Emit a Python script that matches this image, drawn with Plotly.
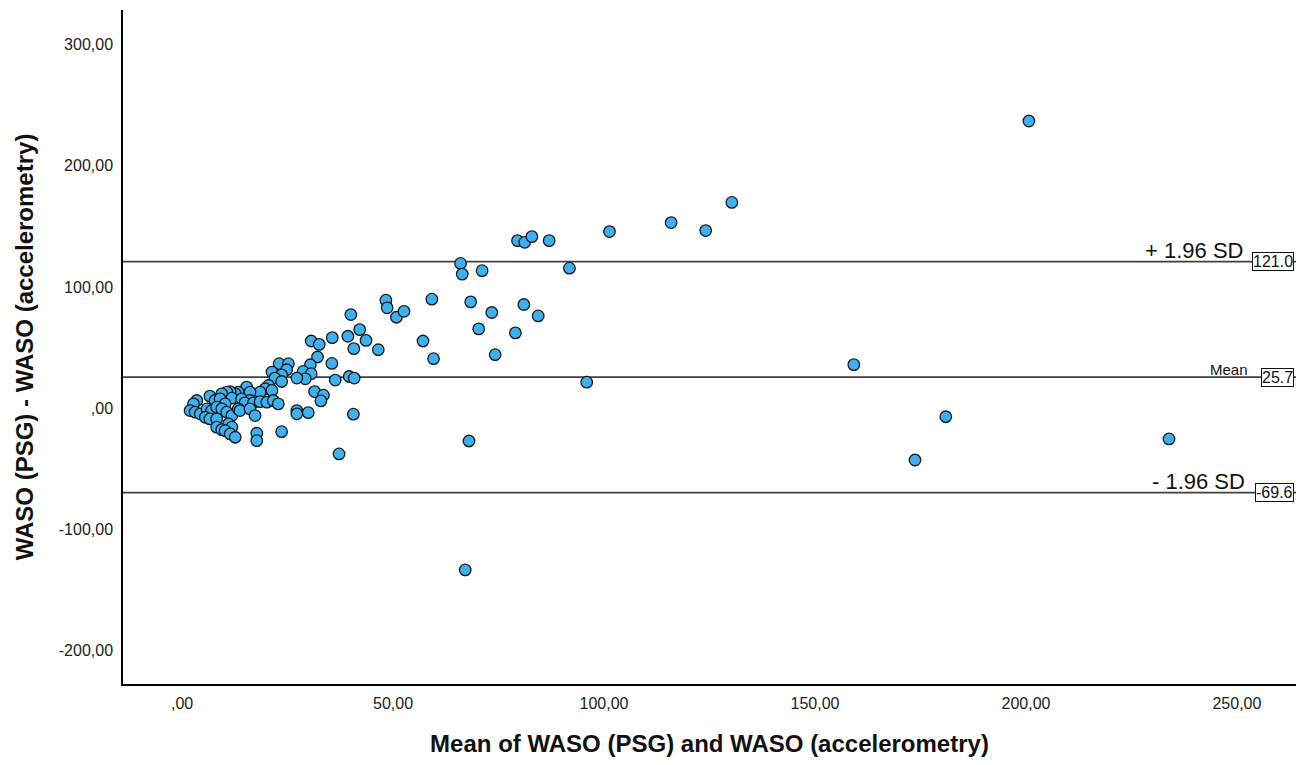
import plotly.graph_objects as go

# Bland-Altman data: mean of the two methods (x) and difference (y)
mean_waso = [
    200.7, 233.9, 181.0, 173.7, 159.2, 130.3, 124.1, 115.9, 101.3, 95.9,
    91.8, 79.5, 81.2, 82.9, 87.0, 66.0, 66.4, 71.1, 68.4, 73.4,
    81.0, 84.4, 70.3, 79.0, 74.2, 68.0, 67.1,
    48.3, 48.6, 50.8, 52.6, 59.2, 40.0, 42.1, 43.6, 46.5, 57.1,
    59.6, 35.6, 39.3, 40.7, 30.6, 32.5, 32.1, 35.5, 30.4, 28.7,
    30.6, 29.2, 36.3, 39.6, 40.8, 31.4, 33.5, 32.9, 29.9, 40.6, 37.2,
    23.0, 25.2, 24.8, 21.3, 23.6, 22.0, 23.6, 27.2, 20.5, 19.7,
    21.3, 18.5, 15.3, 16.1, 13.3, 12.6, 11.4, 10.6, 9.4, 11.8,
    14.1, 16.1, 14.9, 16.9, 18.5, 20.1, 21.6, 22.8, 6.6, 7.8,
    9.0, 10.2, 3.5, 2.7, 1.9, 3.1, 4.3, 5.9, 7.0, 8.2,
    9.4, 10.6, 11.8, 13.3, 13.7, 16.1, 17.3, 11.0, 11.8, 5.5,
    6.6, 8.2, 8.2, 9.4, 10.2, 11.4, 12.6, 17.7, 17.7, 23.6,
    27.2, 27.2,
]
diff_waso = [
    237.0, -25.3, -7.0, -42.7, 36.0, 169.8, 146.6, 153.2, 145.8, 21.5,
    115.6, 138.3, 136.9, 141.6, 138.3, 119.5, 110.7, 113.5, 87.8, 79.0,
    85.6, 76.2, 65.5, 62.2, 44.2, -27.0, -133.4,
    89.2, 82.9, 75.1, 80.0, 90.0, 77.3, 64.9, 56.0, 48.3, 55.5,
    40.9, 58.3, 59.4, 49.2, 55.5, 52.7, 42.3, 37.0, 35.9, 30.4,
    28.5, 24.3, 23.3, 26.2, 24.9, 13.8, 10.8, 6.1, -3.6, -4.9, -37.7,
    36.8, 36.8, 31.8, 29.9, 27.6, 24.9, 22.1, 24.9, 18.8, 16.1,
    14.7, 13.3, 17.5, 13.3, 13.3, 11.9, 13.8, 13.3, 11.9, 8.4,
    7.8, 6.4, 4.5, 4.5, 5.5, 5.0, 6.4, 3.6, 10.0, 6.4,
    7.8, 3.6, 6.4, 3.6, -1.9, -3.2, -4.6, -0.5, -1.9, 0.9,
    -0.5, -3.2, -6.0, -0.5, -1.9, -0.5, -6.0, -12.9, -15.6, -7.4,
    -8.8, -8.8, -15.6, -17.6, -18.5, -21.2, -23.9, -20.6, -26.7, -19.3,
    -1.9, -4.6,
]

# Reference lines (limits of agreement and mean difference)
ref_values = [121.0, 25.7, -69.6]
ref_labels = ["+ 1.96 SD", "Mean", "- 1.96 SD"]
ref_value_text = ["121.0", "25.7", "-69.6"]
ref_label_sizes = [22, 15, 22]
ref_label_x = [0.9565, 0.9605, 0.9585]

# Axis ticks
x_tickvals = [0, 50, 100, 150, 200, 250]
x_ticktext = [",00", "50,00", "100,00", "150,00", "200,00", "250,00"]
y_tickvals = [-200, -100, 0, 100, 200, 300]
y_ticktext = ["-200,00", "-100,00", ",00", "100,00", "200,00", "300,00"]

FONT = "Liberation Sans, Arial, sans-serif"

fig = go.Figure()
fig.add_trace(go.Scatter(
    x=mean_waso, y=diff_waso, mode="markers",
    marker=dict(size=11.5, color="#3DB0EF", line=dict(color="#1A1A1A", width=1.3)),
    showlegend=False, hoverinfo="x+y",
))

shapes = []
annotations = []
for val, lab, vtxt, fs, lx in zip(ref_values, ref_labels, ref_value_text, ref_label_sizes, ref_label_x):
    shapes.append(dict(type="line", xref="paper", x0=0, x1=1, yref="y", y0=val, y1=val,
                       line=dict(color="#404040", width=1.8), layer="below"))
    annotations.append(dict(xref="paper", x=0.9985, xanchor="right", yref="y", y=val,
                            yanchor="middle", text=vtxt, showarrow=False,
                            font=dict(family=FONT, size=16, color="#111"),
                            bgcolor="white", bordercolor="#111", borderwidth=1, borderpad=0))
    annotations.append(dict(xref="paper", x=lx, xanchor="right", yref="y", y=val,
                            yanchor="bottom", yshift=-3, text=lab, showarrow=False,
                            font=dict(family=FONT, size=fs, color="#111")))

fig.update_layout(
    width=1306, height=765,
    margin=dict(l=123, r=10, t=10, b=81),
    paper_bgcolor="white", plot_bgcolor="white",
    font=dict(family=FONT, color="#222"),
    shapes=shapes, annotations=annotations,
    xaxis=dict(
        range=[-14, 264], tickvals=x_tickvals, ticktext=x_ticktext,
        showline=True, linecolor="black", linewidth=1.5, mirror=False,
        showgrid=False, zeroline=False, ticks="", ticklabelstandoff=4,
        tickfont=dict(family=FONT, size=16, color="#222"),
        title=dict(text="<b>Mean of WASO (PSG) and WASO (accelerometry)</b>",
                   font=dict(family=FONT, size=24, color="#111"), standoff=24),
        automargin=False,
    ),
    yaxis=dict(
        range=[-227.5, 328.6], tickvals=y_tickvals, ticktext=y_ticktext,
        showline=True, linecolor="black", linewidth=1.5, mirror=False,
        showgrid=False, zeroline=False, ticks="", ticklabelstandoff=5,
        tickfont=dict(family=FONT, size=16, color="#222"),
        title=dict(text="<b>WASO (PSG) - WASO (accelerometry)</b>",
                   font=dict(family=FONT, size=24, color="#111"), standoff=18),
        automargin=False,
    ),
)

fig.write_html("out.html")
